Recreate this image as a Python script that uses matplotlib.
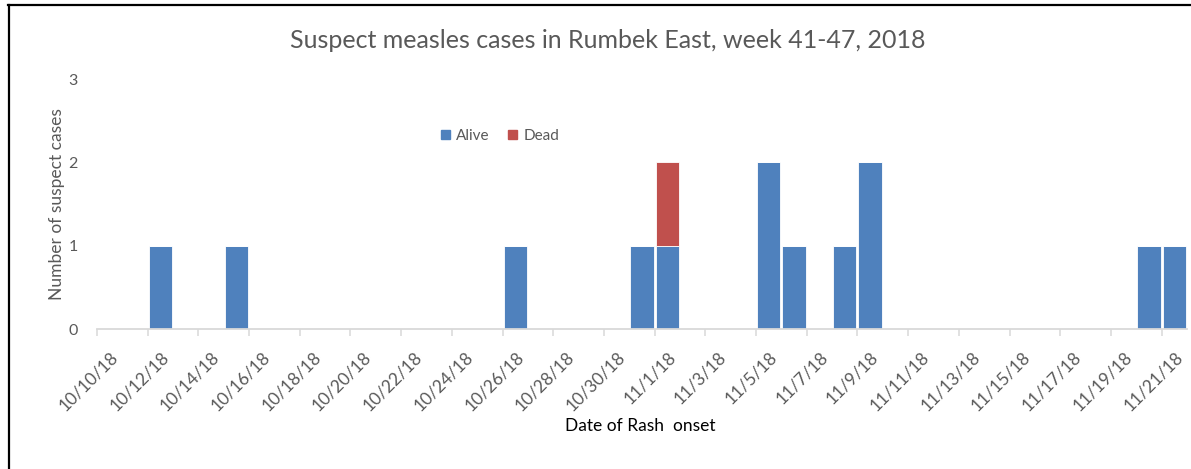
import matplotlib
matplotlib.use("Agg")
import matplotlib.pyplot as plt
from matplotlib.patches import Patch
from matplotlib.lines import Line2D
import pandas as pd

# fechas de inicio del exantema (un dia por categoria)
dias = pd.date_range("2018-10-10", "2018-11-21", freq="D")
etiquetas = [f"{d.month}/{d.day}/{d.strftime('%y')}" for d in dias]

# casos por dia
vivos = [0, 0, 1, 0, 0, 1, 0, 0, 0, 0,
         0, 0, 0, 0, 0, 0, 1, 0, 0, 0,
         0, 1, 1, 0, 0, 0, 2, 1, 0, 1,
         2, 0, 0, 0, 0, 0, 0, 0, 0, 0,
         0, 1, 1]
muertos = [0] * 22 + [1] + [0] * 20

azul = "#4F81BD"
rojo = "#C0504D"
gris = "#595959"

plt.rcParams["font.family"] = ["Lato", "DejaVu Sans"]

W, H = 1191, 469
fig = plt.figure(figsize=(W / 100, H / 100), dpi=100)
ax = fig.add_axes([97 / W, 1 - 329 / H, 1090 / W, 250 / H])

x = list(range(len(dias)))
ax.bar(x, vivos, width=0.92, color=azul, edgecolor="white", linewidth=0.6, label="Alive")
ax.bar(x, muertos, width=0.92, bottom=vivos, color=rojo, edgecolor="white", linewidth=0.6, label="Dead")

ax.set_xlim(-0.5, len(dias) - 0.5)
ax.set_ylim(0, 3)
ax.set_yticks([0, 1, 2, 3])
ax.tick_params(axis="y", length=0, pad=14, labelsize=11.5, labelcolor=gris)

ax.set_xticks(x[::2])
ax.set_xticklabels(etiquetas[::2], rotation=45, ha="right", rotation_mode="anchor")
ax.set_xticks([i - 0.5 for i in x[::2]], minor=True)
ax.tick_params(axis="x", which="major", length=0, pad=14, labelsize=12.5, labelcolor=gris)
ax.tick_params(axis="x", which="minor", length=5, width=1.1, color="#D9D9D9")

for s in ["top", "right", "left"]:
    ax.spines[s].set_visible(False)
ax.spines["bottom"].set_color("#D9D9D9")
ax.spines["bottom"].set_linewidth(1.3)

fig.text(608 / W, 1 - 40 / H, "Suspect measles cases in Rumbek East, week 41-47, 2018",
         ha="center", va="center", fontsize=18, color=gris)
fig.text(57 / W, 1 - 204 / H, "Number of suspect cases", rotation=90,
         ha="center", va="center", fontsize=12.5, color=gris)
fig.text(640 / W, 1 - 426 / H, "Date of Rash  onset",
         ha="center", va="center", fontsize=12.5, color="black")

manijas = [Patch(color=azul), Patch(color=rojo)]
fig.legend(manijas, ["Alive", "Dead"], loc="center", bbox_to_anchor=(500 / W, 1 - 136 / H),
           ncol=2, frameon=False, fontsize=11, labelcolor=gris,
           handlelength=0.6, handleheight=0.6, handletextpad=0.4, columnspacing=1.2)

# marco exterior
fig.add_artist(Line2D([8 / W, 1], [1 - 5 / H, 1 - 5 / H], color="black", linewidth=1.6))
fig.add_artist(Line2D([8.5 / W, 8.5 / W], [0, 1 - 5 / H], color="black", linewidth=1.6))

fig.savefig("out.png", dpi=100)
